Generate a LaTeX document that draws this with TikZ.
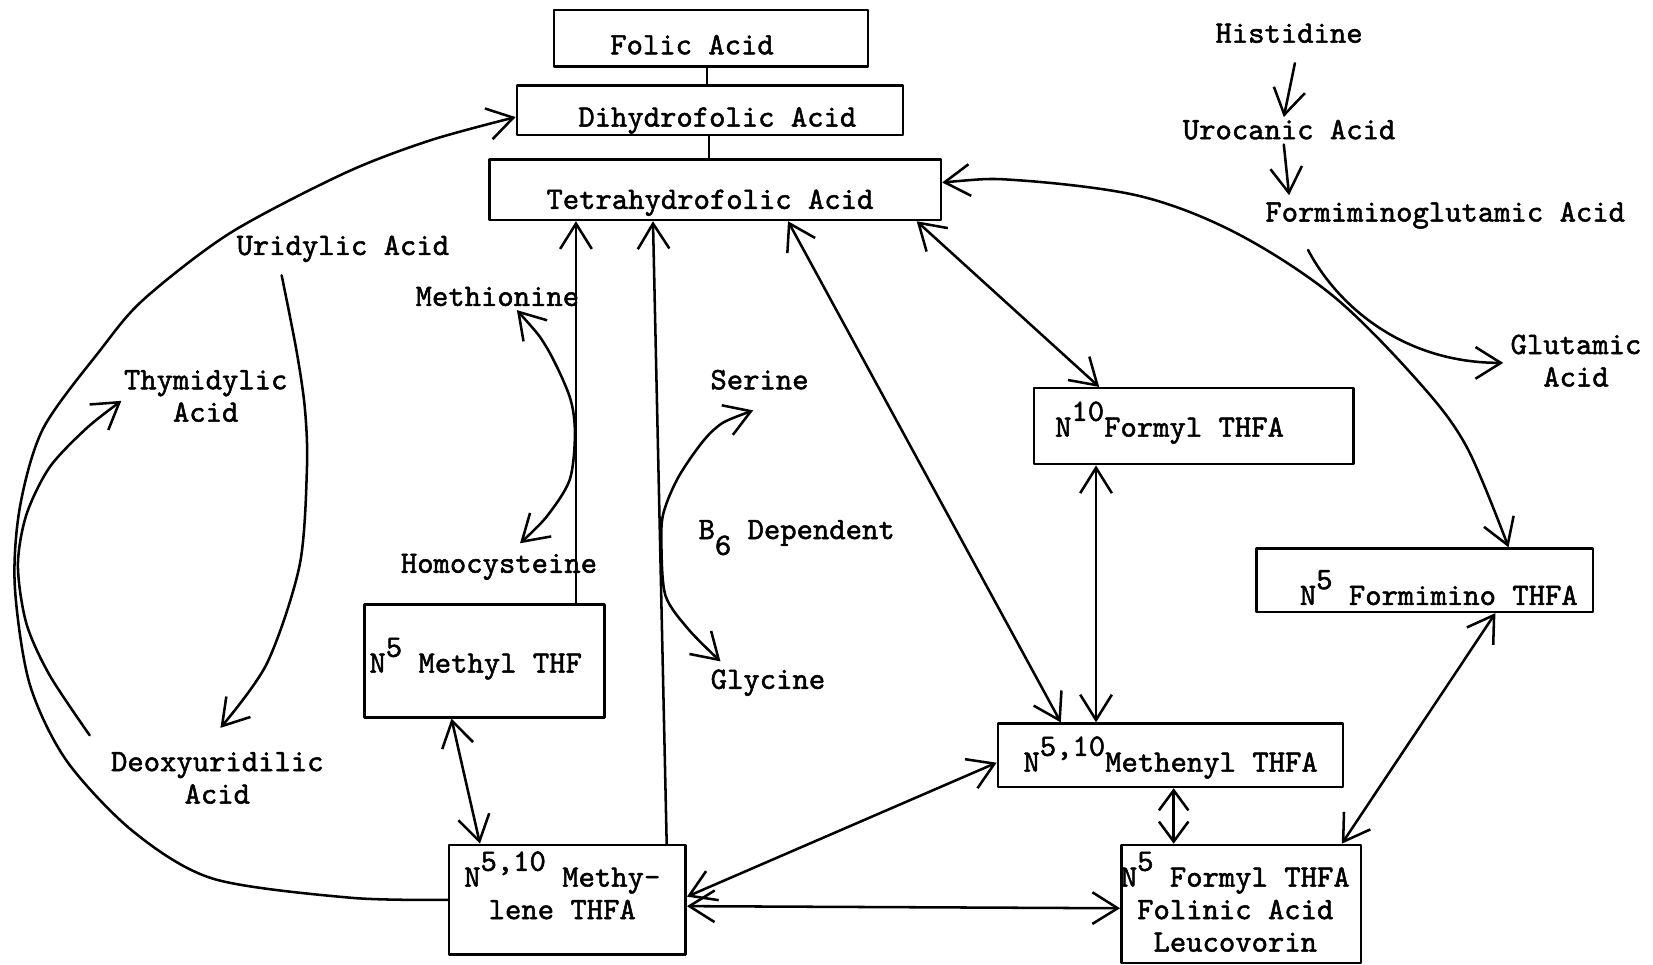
\documentclass[tikz,border=0pt]{standalone}
\usepackage{fontspec}
\newfontfamily\tw{lmmono10-regular}[Extension=.otf,RawFeature={embolden=1.6}]
\usetikzlibrary{arrows.meta,calc,fit}
\newcommand\upp[1]{\raisebox{7.5pt}{#1}}
\newcommand\dnn[1]{\raisebox{-7.5pt}{#1}}
\newcommand\mlines[1]{\begin{tabular}[t]{@{}c@{}}#1\end{tabular}}
\begin{document}
\begin{tikzpicture}[x=0.5pt,y=-0.5pt,line width=1.2pt,line cap=round,line join=round,
 >={Straight Barb[length=12pt,width=15pt]},
 short/.style={{Straight Barb[length=9.5pt,width=14pt]}-{Straight Barb[length=9.5pt,width=14pt]}},
 box/.style={draw,inner sep=0pt,fit={#1}},
 lbl/.style={inner sep=0pt,anchor=base,font=\tw\fontsize{14.76pt}{15.4pt}\selectfont},
 lblw/.style={lbl,anchor=base west}]
\useasboundingbox (0,0) rectangle (1567,914);
% boxes
\node[box={(525,9.5) (823,63)}] (folic) {};
\node[box={(490,81) (856,128)}] (dihydro) {};
\node[box={(464,151) (892,208.5)}] (tetra) {};
\node[box={(980,368) (1283,440)}] (n10) {};
\node[box={(1191,520) (1510,580)}] (nfim) {};
\node[box={(345.5,573) (573,680)}] (nmethyl) {};
\node[box={(946,686) (1273,746)}] (methenyl) {};
\node[box={(425.6,801) (650,905)}] (methylene) {};
\node[box={(1063,801) (1290,913)}] (formyl) {};
% box texts
\node[lbl] (tfolic) at (656,51.5) {Folic Acid};
\node[lbl] (tdihydro) at (680,120) {Dihydrofolic Acid};
\node[lbl] (ttetra) at (673,198) {Tetrahydrofolic Acid};
\node[lblw] (tn10) at (999,414) {N\upp{10}Formyl THFA};
\node[lblw] (tnfim) at (1231,573.5) {N\upp{5} Formimino THFA};
\node[lblw] (tnmethyl) at (349,637.6) {N\upp{5} Methyl THF};
\node[lblw] (tmethenyl) at (969,731.5) {N\upp{5,10}Methenyl THFA};
\node[lbl] (tmethylene) at (533,840.5) {\mlines{N\upp{5,10} Methy-\\lene THFA}};
\node[lbl] (tformyl) at (1171,840.5) {\mlines{N\upp{5} Formyl THFA\\Folinic Acid\\Leucovorin}};
% free labels
\node[lbl] (his) at (1222,40.5) {Histidine};
\node[lbl] (uro) at (1222,132) {Urocanic Acid};
\node[lbl] (fig) at (1370,210) {Formiminoglutamic Acid};
\node[lbl] (glu) at (1494,335.6) {\mlines{Glutamic\\Acid}};
\node[lbl] (uri) at (325,241.7) {Uridylic Acid};
\node[lbl] (met) at (471.5,290) {Methionine};
\node[lbl] (thy) at (195,369) {\mlines{Thymidylic\\Acid}};
\node[lbl] (ser) at (720,369) {Serine};
\node[lblw] (b6) at (661,511) {B\dnn{6} Dependent};
\node[lbl] (homo) at (473,543) {Homocysteine};
\node[lbl] (gly) at (728,653) {Glycine};
\node[lbl] (deo) at (206,731) {\mlines{Deoxyuridilic\\Acid}};
% helper coordinates
\coordinate (d1) at (tetra.east |- 0,173);
\coordinate (d2) at (nfim.north -| 1430,0);
\coordinate (oA) at ($(met.base)+(18.5,4)$);
\coordinate (oB) at ($(homo.base)+(20,-28)$);
\coordinate (pA) at ($(ser.base)+(-6,20)$);
\coordinate (pB) at ($(gly.base)+(-45,-26)$);
\coordinate (qA) at ($(uri.base)+(-58,19.3)$);
\coordinate (qB) at ($(deo.base)+(3,-41)$);
\coordinate (rA) at ($(deo.base)+(-121,-34)$);
\coordinate (rB) at ($(thy.base)+(-80,11)$);
\coordinate (sA) at (methylene.west |- 0,853);
\coordinate (sB) at (dihydro.west |- 0,111);
% connectors
\draw (folic.south -| 670,0) -- (dihydro.north -| 670,0);
\draw (dihydro.south -| 672,0) -- (tetra.north -| 672,0);
\draw[->] ($(his.base)+(5.5,19.5)$) -- ($(uro.base)+(-5,-21)$);
\draw[->] ($(uro.base)+(-5,5)$) -- ($(fig.base)+(-148,-25)$);
\draw[->] ($(fig.base)+(-130,27)$) .. controls (1268,290) and (1330,344) .. ($(glu.base)+(-69,8.4)$);
\draw[<->] plot[smooth,tension=0.55] coordinates {(d1) (967,171) (1081,186) (1172,221) (1263,280) (1343,360) (1390,423) (d2)};
\draw[<->] (tetra.south -| 869,0) -- (n10.north -| 1042,0);
\draw[<->] (tetra.south -| 747,0) -- (methenyl.north -| 1005.6,0);
\draw[<->] (n10.south -| 1039,0) -- (methenyl.north -| 1039,0);
\draw[short] (methenyl.south -| 1112.6,0) -- (formyl.north -| 1112.6,0);
\draw[<->] (nfim.south -| 1417.6,0) -- (formyl.north -| 1272,0);
\draw[<->] (methylene.east |- 0,850) -- (methenyl.west |- 0,723);
\draw[<->] (methylene.east |- 0,859) -- (formyl.west |- 0,861);
\draw[->] (methylene.north -| 632,0) -- (tetra.south -| 619,0);
\draw[->] (nmethyl.north -| 546,0) -- (tetra.south -| 546,0);
\draw[<->] (nmethyl.south -| 428,0) -- (methylene.north -| 455,0);
\draw[<->] plot[smooth] coordinates {(oA) (518,329) (540,376) (545,411) (540,455) (518,490) (oB)};
\draw[<->] plot[smooth] coordinates {(pA) (676,408) (645,449) (629,486) (627,518) (631,565) (653,597) (pB)};
\draw[->] plot[smooth] coordinates {(qA) (281,332) (289,387) (291,443) (284,536) (253,629) (qB)};
\draw[->] plot[smooth] coordinates {(rA) (47,640) (25,591) (17,536) (25,488) (47,443) (82,406) (rB)};
\draw[->] plot[smooth] coordinates {(sA) (332,851) (202,833) (126,788) (63,721) (28,648) (14,555) (19,480) (41,406) (95,332) (136,284) (218,221) (327,164) (408,133) (sB)};
\end{tikzpicture}
\end{document}
